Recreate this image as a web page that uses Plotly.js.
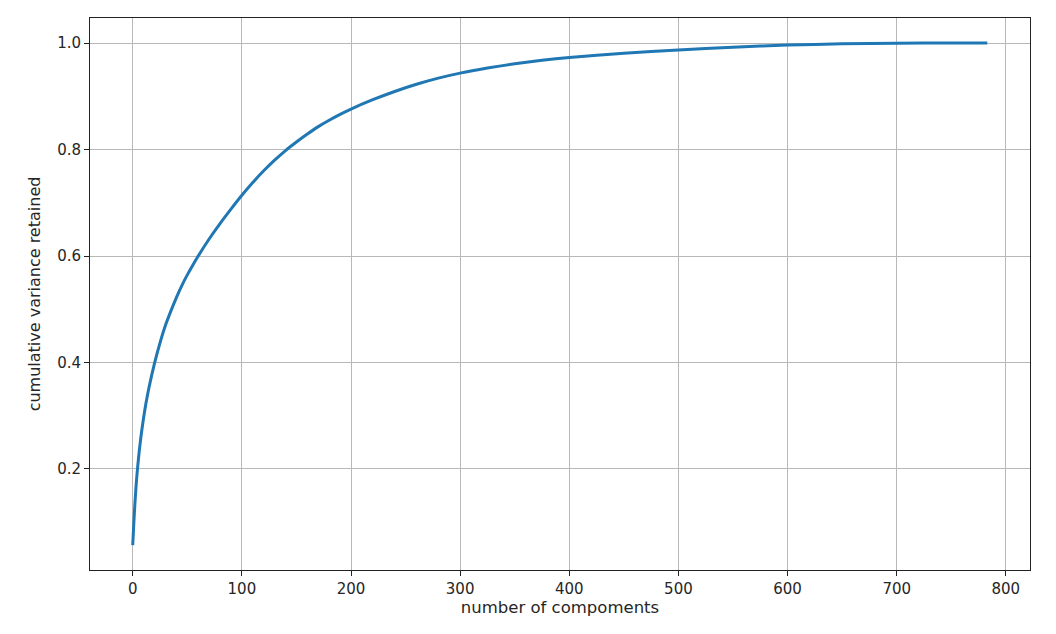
<!DOCTYPE html>
<html>
<head>
<meta charset="utf-8">
<script src="https://cdn.plot.ly/plotly-3.0.1.min.js"></script>
<style>html,body{margin:0;padding:0;background:#fff;}#chart{width:1056px;height:634px;}</style>
</head>
<body>
<div id="chart"></div>
<script>
// number of components (x) and cumulative explained variance (y)
var components = [0, 1, 2, 3, 4, 5, 6, 7, 8, 10, 12, 15, 20, 25, 30, 35, 40, 45, 50, 55, 60, 70, 80, 90, 100,
  110, 120, 130, 140, 150, 160, 170, 180, 190, 200, 220, 240, 260, 280, 300, 325, 350, 375, 400,
  450, 500, 550, 600, 650, 700, 750, 783];
var cumVariance = [0.057, 0.098, 0.135, 0.166, 0.192, 0.214, 0.234, 0.252, 0.268, 0.297, 0.322, 0.354,
  0.399, 0.437, 0.470, 0.497, 0.522, 0.5445, 0.5645, 0.5827, 0.600, 0.632, 0.661, 0.688, 0.714,
  0.738, 0.760, 0.780, 0.798, 0.814, 0.829, 0.843, 0.855, 0.866, 0.876, 0.8935, 0.909, 0.9225, 0.934,
  0.9435, 0.953, 0.961, 0.9675, 0.973, 0.981, 0.987, 0.9922, 0.9962, 0.9985, 0.9996, 1.0, 1.0];
var xTicks = [0, 100, 200, 300, 400, 500, 600, 700, 800];
var yTicks = [0.2, 0.4, 0.6, 0.8, 1.0];
var yTickText = ['0.2', '0.4', '0.6', '0.8', '1.0'];

var trace = {
  x: components, y: cumVariance, type: 'scatter', mode: 'lines',
  line: {color: '#1f77b4', width: 3, shape: 'spline', smoothing: 0.5},
  hoverinfo: 'x+y'
};
var axisCommon = {
  showline: true, mirror: true, linecolor: '#222', linewidth: 1,
  ticks: 'outside', ticklen: 5, tickwidth: 1, tickcolor: '#222',
  showgrid: true, gridcolor: '#b8b8b8', gridwidth: 1, zeroline: false,
  tickfont: {family: 'DejaVu Sans', size: 15, color: '#262626'}
};
var layout = {
  width: 1056, height: 634,
  margin: {l: 90, r: 26, t: 18, b: 64},
  paper_bgcolor: '#fff', plot_bgcolor: '#fff',
  showlegend: false,
  font: {family: 'DejaVu Sans', size: 15, color: '#262626'},
  xaxis: Object.assign({}, axisCommon, {
    range: [-39.15, 822.15], tickvals: xTicks, ticktext: xTicks.map(String),
    title: {text: 'number of compoments', font: {family: 'DejaVu Sans', size: 16.5, color: '#262626'}, standoff: 4}
  }),
  yaxis: Object.assign({}, axisCommon, {
    range: [0.0103, 1.047], tickvals: yTicks, ticktext: yTickText,
    title: {text: 'cumulative variance retained', font: {family: 'DejaVu Sans', size: 16, color: '#262626'}, standoff: 12}
  })
};
Plotly.newPlot('chart', [trace], layout, {displayModeBar: false, staticPlot: true});
</script>
</body>
</html>
